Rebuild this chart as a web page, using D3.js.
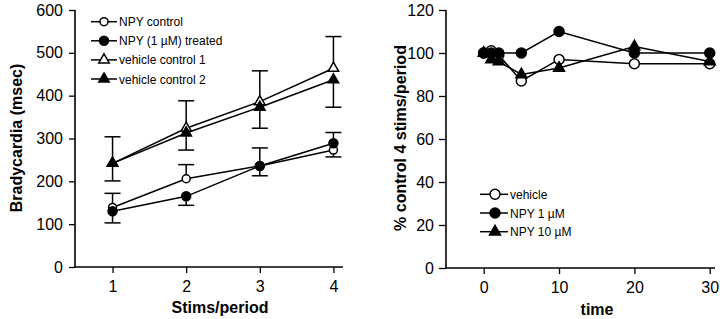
<!DOCTYPE html>
<html>
<head>
<meta charset="utf-8">
<script src="https://cdn.jsdelivr.net/npm/d3@7"></script>
<style>
  body { margin: 0; background: #fff; }
  svg { display: block; font-family: "Liberation Sans", Arial, sans-serif; }
</style>
</head>
<body>
<div id="container"></div>
<script>
// left panel: bradycardia vs stims/period
const stims = [1, 2, 3, 4];
const npyControl = [139, 206, 236, 273];
const npyControlErr = [33, 33, -23, -16];
const npyTreated = [130, 165, 236, 289];
const npyTreatedErr = [-27, -21, 42, 25];
const vehicle1 = [242, 324, 386, 464];
const vehicle1Err = [62, 64, 72, 74];
const vehicle2 = [242, 313, 373, 437];
const vehicle2Err = [-41, -40, -49, -64];
const leftYTicks = [0, 100, 200, 300, 400, 500, 600];
const leftXTicks = [1, 2, 3, 4];

// right panel: % control vs time
const times = [0, 1, 2, 5, 10, 20, 30];
const vehicleT = [100, 101, 99, 87, 97, 95, 95];
const npy1 = [100, 100, 100, 100, 110, 100, 100];
const npy10 = [100, 97, 96, 90, 93, 103, 96];
const rightYTicks = [0, 20, 40, 60, 80, 100, 120];
const rightXTicks = [0, 10, 20, 30];

const main = (container) => {
    const svg = d3.select(container)
        .append("svg")
        .attr("width", 720)
        .attr("height", 319);

    const drawMarker = (g, shape, open, x, y, r) => {
        if (shape === "circle") {
            g.append("circle")
                .attr("cx", x)
                .attr("cy", y)
                .attr("r", r)
                .attr("fill", open ? "#fff" : "#000")
                .attr("stroke", "#000")
                .attr("stroke-width", 1.5);
        } else {
            const side = r * 2.5;
            g.append("path")
                .attr("d", d3.symbol().type(d3.symbolTriangle).size(side * side * Math.sqrt(3) / 4)())
                .attr("transform", `translate(${x},${y})`)
                .attr("fill", open ? "#fff" : "#000")
                .attr("stroke", "#000")
                .attr("stroke-width", 1.5);
        }
    };

    const styleAxis = (g) => {
        g.selectAll(".domain").attr("stroke", "#000").attr("stroke-width", 1.6);
        g.selectAll(".tick line").attr("stroke", "#000").attr("stroke-width", 1.3);
        g.selectAll(".tick text")
            .attr("fill", "#000")
            .style("font-size", "16px")
            .style("font-family", "'Liberation Sans', Arial, sans-serif");
    };

    // ---------- left panel ----------
    const xL = d3.scaleLinear().domain([0.49, 4.13]).range([75, 343]);
    const yL = d3.scaleLinear().domain([0, 600]).range([267, 10]);

    svg.append("g")
        .attr("transform", "translate(0,267)")
        .call(d3.axisBottom(xL).tickValues(leftXTicks).tickFormat(d3.format("d")).tickSize(6).tickPadding(8))
        .call(g => g.select(".domain").attr("d", `M${xL.range()[0]},0H${xL.range()[1]}`))
        .call(styleAxis);

    svg.append("g")
        .attr("transform", "translate(75,0)")
        .call(d3.axisLeft(yL).tickValues(leftYTicks).tickSize(6).tickPadding(6))
        .call(g => g.select(".domain").attr("d", `M0,${yL.range()[0]}V${yL.range()[1]}`))
        .call(styleAxis);

    const leftSeries = [
        { name: "NPY control", values: npyControl, err: npyControlErr, shape: "circle", open: true, r: 4 },
        { name: "NPY (1 \u00b5M) treated", values: npyTreated, err: npyTreatedErr, shape: "circle", open: false, r: 4.5 },
        { name: "vehicle control 1", values: vehicle1, err: vehicle1Err, shape: "triangle", open: true, r: 4.2 },
        { name: "vehicle control 2", values: vehicle2, err: vehicle2Err, shape: "triangle", open: false, r: 4.2 }
    ];

    const lineL = d3.line().x((d, i) => xL(stims[i])).y(d => yL(d));
    const left = svg.append("g");

    leftSeries.forEach(s => {
        s.values.forEach((v, i) => {
            const x = xL(stims[i]);
            left.append("line")
                .attr("x1", x).attr("x2", x)
                .attr("y1", yL(v)).attr("y2", yL(v + s.err[i]))
                .attr("stroke", "#000").attr("stroke-width", 1.5);
            left.append("line")
                .attr("x1", x - 8).attr("x2", x + 8)
                .attr("y1", yL(v + s.err[i])).attr("y2", yL(v + s.err[i]))
                .attr("stroke", "#000").attr("stroke-width", 1.5);
        });
    });
    leftSeries.forEach(s => {
        left.append("path")
            .attr("d", lineL(s.values))
            .attr("fill", "none")
            .attr("stroke", "#000")
            .attr("stroke-width", 1.5);
    });
    leftSeries.forEach(s => {
        s.values.forEach((v, i) => drawMarker(left, s.shape, s.open, xL(stims[i]), yL(v), s.r));
    });

    const legendL = svg.append("g");
    leftSeries.forEach((s, i) => {
        const y = 21.7 + i * 19.1;
        legendL.append("line")
            .attr("x1", 91).attr("x2", 117)
            .attr("y1", y).attr("y2", y)
            .attr("stroke", "#000").attr("stroke-width", 1.5);
        drawMarker(legendL, s.shape, s.open, 104, y, s.r);
        legendL.append("text")
            .attr("x", 119)
            .attr("y", y + 4.5)
            .style("font-size", "12px")
            .text(s.name);
    });

    svg.append("text")
        .attr("transform", "rotate(-90)")
        .attr("x", -138)
        .attr("y", 22)
        .attr("text-anchor", "middle")
        .style("font-size", "16px")
        .style("font-weight", "bold")
        .text("Bradycardia (msec)");

    svg.append("text")
        .attr("x", 220)
        .attr("y", 313)
        .attr("text-anchor", "middle")
        .style("font-size", "16px")
        .style("font-weight", "bold")
        .text("Stims/period");

    // ---------- right panel ----------
    const xR = d3.scaleLinear().domain([-5, 30.7]).range([446, 715]);
    const yR = d3.scaleLinear().domain([0, 120]).range([268, 10]);

    svg.append("g")
        .attr("transform", "translate(0,268)")
        .call(d3.axisBottom(xR).tickValues(rightXTicks).tickFormat(d3.format("d")).tickSize(6).tickPadding(8))
        .call(g => g.select(".domain").attr("d", `M${xR.range()[0]},0H${xR.range()[1]}`))
        .call(styleAxis);

    svg.append("g")
        .attr("transform", "translate(446,0)")
        .call(d3.axisLeft(yR).tickValues(rightYTicks).tickSize(7).tickPadding(5))
        .call(g => g.select(".domain").attr("d", `M0,${yR.range()[0]}V${yR.range()[1]}`))
        .call(styleAxis);

    const rightSeries = [
        { name: "vehicle", values: vehicleT, shape: "circle", open: true, r: 5 },
        { name: "NPY 1 \u00b5M", values: npy1, shape: "circle", open: false, r: 5 },
        { name: "NPY 10 \u00b5M", values: npy10, shape: "triangle", open: false, r: 4.4 }
    ];

    const lineR = d3.line().x((d, i) => xR(times[i])).y(d => yR(d));
    const right = svg.append("g");

    rightSeries.forEach(s => {
        right.append("path")
            .attr("d", lineR(s.values))
            .attr("fill", "none")
            .attr("stroke", "#000")
            .attr("stroke-width", 1.5);
    });
    rightSeries.forEach(s => {
        s.values.forEach((v, i) => drawMarker(right, s.shape, s.open, xR(times[i]), yR(v), s.r));
    });

    const legendR = svg.append("g");
    rightSeries.forEach((s, i) => {
        const y = 194.3 + i * 18.7;
        legendR.append("line")
            .attr("x1", 480).attr("x2", 508)
            .attr("y1", y).attr("y2", y)
            .attr("stroke", "#000").attr("stroke-width", 1.5);
        drawMarker(legendR, s.shape, s.open, 495, y, s.r);
        legendR.append("text")
            .attr("x", 510)
            .attr("y", y + 4.5)
            .style("font-size", "12px")
            .text(s.name);
    });

    svg.append("text")
        .attr("transform", "rotate(-90)")
        .attr("x", -138)
        .attr("y", 406)
        .attr("text-anchor", "middle")
        .style("font-size", "16px")
        .style("font-weight", "bold")
        .text("% control 4 stims/period");

    svg.append("text")
        .attr("x", 597)
        .attr("y", 315)
        .attr("text-anchor", "middle")
        .style("font-size", "16px")
        .style("font-weight", "bold")
        .text("time");
};

const container = document.getElementById("container");
main(container);
</script>
</body>
</html>
